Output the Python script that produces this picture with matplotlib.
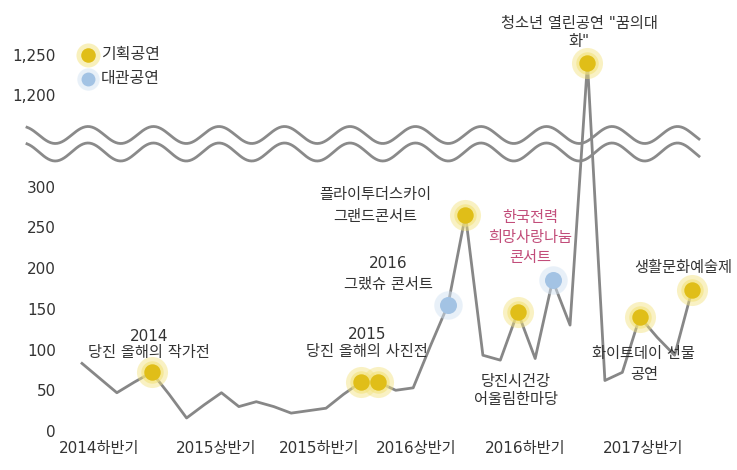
import numpy as np
import matplotlib
matplotlib.use("Agg")
import matplotlib.pyplot as plt
from matplotlib.ticker import FixedLocator, FuncFormatter

plt.rcParams['font.family'] = ['DejaVu Sans', 'Noto Sans CJK KR']

# Monthly audience counts, July 2014 - June 2017
values = [83, 65, 47, 60, 72, 45, 16, 32, 47, 30, 36, 30,
          22, 25, 28, 45, 60, 60, 50, 53, 105, 155, 265, 93,
          87, 146, 89, 185, 130, 1240, 62, 72, 140, 115, 93, 173]

# Highlighted events: index into values
planned_idx = [4, 16, 17, 22, 25, 29, 32, 35]    # 기획공연
rental_idx = [21, 27]                            # 대관공연

period_labels = ['2014하반기', '2015상반기', '2015하반기',
                 '2016상반기', '2016하반기', '2017상반기']

y_ticks = [0, 50, 100, 150, 200, 250, 300, 1200, 1250]

# Event captions and the data index each one belongs to
note_idx = [4, 16.5, 21, 22, 27, 26, 29, 32, 35]
note_text = ['2014\n당진 올해의 작가전',
             '2015\n당진 올해의 사진전',
             '2016\n그랬슈 콘서트',
             '플라이투더스카이\n그랜드콘서트',
             '한국전력\n희망사랑나눔\n콘서트',
             '당진시건강\n어울림한마당',
             '청소년 열린공연 "꿈의대\n화"',
             '화이트데이 선물\n공연',
             '생활문화예술제']

# Layout of captions: (dx pt, dy pt, line spacing, colour)
note_layout = [(-2, 20, 1.05, '#333333'),
               (-2, 28, 1.2, '#333333'),
               (-43, 22, 1.55, '#333333'),
               (-65, 7, 1.55, '#333333'),
               (-16, 31, 1.4, '#c24d7a'),
               (-14, -23, 1.2, '#333333'),
               (-6, 22, 1.2, '#333333'),
               (3, -34, 1.5, '#333333'),
               (-6, 16, 1.2, '#333333')]

period_pos = [1.0, 7.7, 13.6, 19.2, 25.4, 32.2]

# Broken value axis: the range between LO and HI is squeezed to nothing
LO, HI = 350.5, 1137.5
K_HI = 0.98
EPS = 1e-3


def fwd(v):
    v = np.asarray(v, dtype=float)
    mid = LO + EPS * (v - LO)
    top = LO + EPS * (HI - LO) + K_HI * (v - HI)
    return np.where(v <= LO, v, np.where(v >= HI, top, mid))


def inv(u):
    u = np.asarray(u, dtype=float)
    u_hi = LO + EPS * (HI - LO)
    mid = LO + (u - LO) / EPS
    top = HI + (u - u_hi) / K_HI
    return np.where(u <= LO, u, np.where(u >= u_hi, top, mid))


W, H = 737, 470
fig = plt.figure(figsize=(W / 100, H / 100), dpi=100)

x = np.arange(len(values))
left_px, right_px = 60, 710
x0_px, dx_px = 82, 17.43
xlim = ((left_px - x0_px) / dx_px, (right_px - x0_px) / dx_px)

ax = fig.add_axes([left_px / W, (H - 440) / H,
                   (right_px - left_px) / W, (440 - 10) / H])
ax.set_yscale('function', functions=(fwd, inv))
ax.set_ylim(-11, 1306.25)
ax.set_xlim(*xlim)

line_color = '#878787'
yellow, yellow_glow = '#e0be18', '#f3e27a'
blue, blue_glow = '#a3c3e4', '#d3e3f3'

ax.plot(x, values, color=line_color, lw=2.0, zorder=2)
px = np.array(planned_idx)
pv = np.array(values)[px]
ax.scatter(px, pv, s=500, color=yellow_glow, alpha=0.45, lw=0, zorder=3)
ax.scatter(px, pv, s=260, color=yellow_glow, alpha=0.6, lw=0, zorder=3)
ax.scatter(px, pv, s=140, color=yellow, lw=0, zorder=4)
rx = np.array(rental_idx)
rv = np.array(values)[rx]
ax.scatter(rx, rv, s=420, color=blue_glow, alpha=0.5, lw=0, zorder=3)
ax.scatter(rx, rv, s=150, color=blue, lw=0, zorder=4)

for s in ax.spines.values():
    s.set_visible(False)
ax.patch.set_visible(False)
ax.tick_params(length=0, labelsize=11, colors='#333333', pad=3)
ax.yaxis.set_major_locator(FixedLocator(y_ticks))
ax.yaxis.set_minor_locator(FixedLocator([]))
ax.yaxis.set_major_formatter(FuncFormatter(lambda v, p: f'{int(round(v)):,}'))
ax.set_xticks(period_pos)
ax.set_xticklabels(period_labels, fontsize=11)
ax.tick_params(axis='x', pad=1)

for idx, text, (ox, oy, ls, col) in zip(note_idx, note_text, note_layout):
    i0 = int(np.floor(idx))
    i1 = int(np.ceil(idx))
    v = (values[i0] + values[i1]) / 2
    ax.annotate(text, xy=(idx, v), xytext=(ox, oy),
                textcoords='offset points', ha='center', va='center',
                fontsize=11, color=col, linespacing=ls, zorder=6,
                annotation_clip=False)

# Legend and axis-break strokes on a pixel-space overlay
over = fig.add_axes([0, 0, 1, 1])
over.set_xlim(0, W)
over.set_ylim(H, 0)
over.axis('off')
over.scatter([88], [55], s=300, color=yellow_glow, alpha=0.5, lw=0)
over.scatter([88], [55], s=110, color=yellow, lw=0)
over.scatter([88], [79], s=260, color=blue_glow, alpha=0.5, lw=0)
over.scatter([88], [79], s=100, color=blue, lw=0)
over.text(101, 55, '기획공연', va='center', ha='left', fontsize=11.5, color='#333333')
over.text(101, 79, '대관공연', va='center', ha='left', fontsize=11.5, color='#333333')

wx = np.linspace(27, 699, 600)
phase = 2 * np.pi * (wx - 88) / 65.5
over.plot(wx, 135 - 8.5 * np.cos(phase), color='#8a8a8a', lw=2.0)
over.plot(wx, 152 - 9 * np.cos(phase), color='#8a8a8a', lw=2.0)

fig.savefig('out.png', dpi=100)
